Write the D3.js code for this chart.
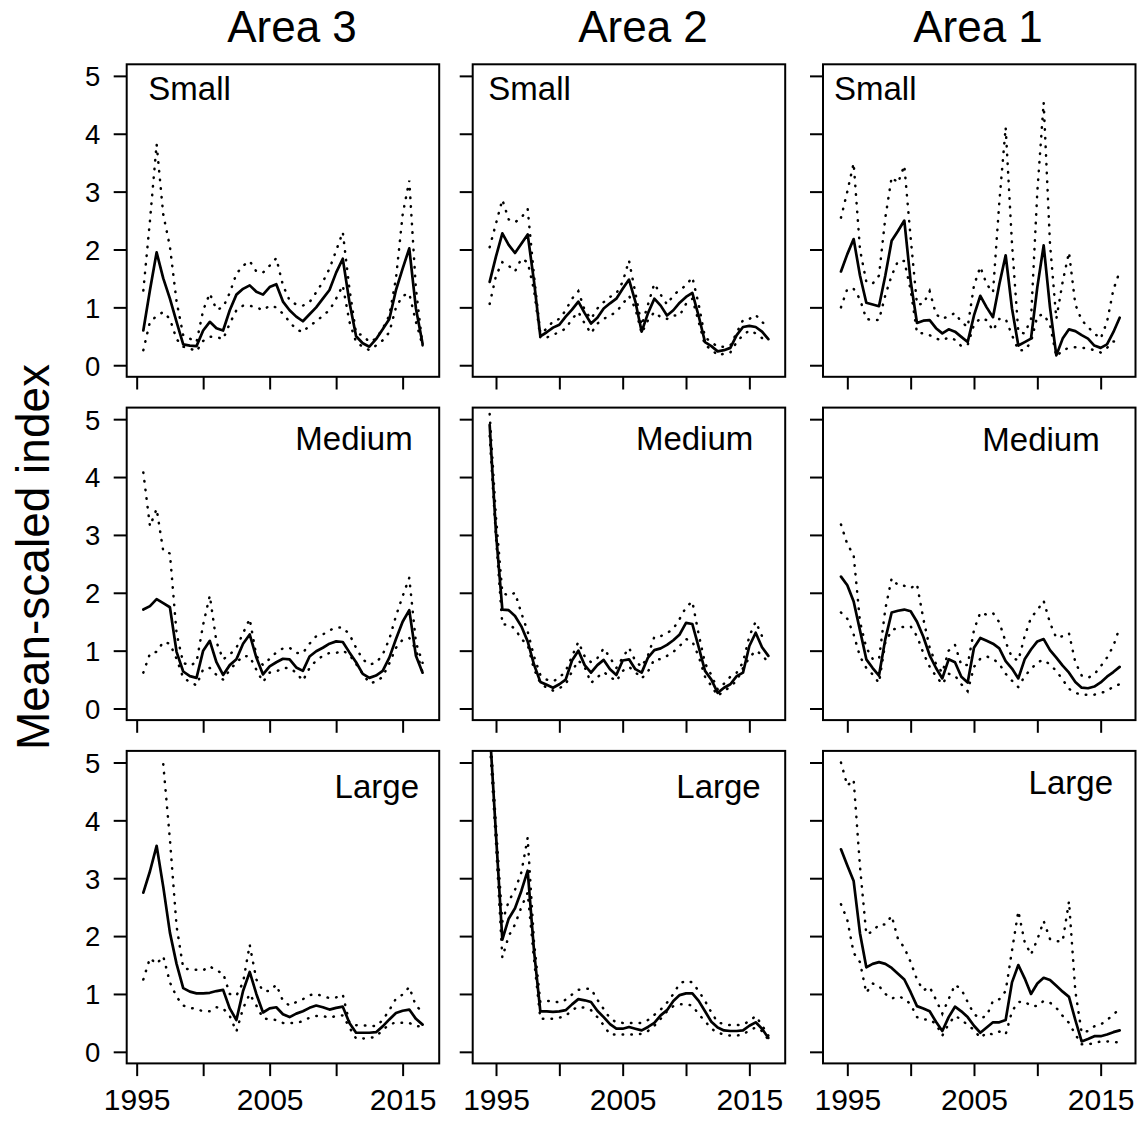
<!DOCTYPE html>
<html>
<head>
<meta charset="utf-8">
<script src="https://cdn.jsdelivr.net/npm/d3@7"></script>
<style>
  body { margin: 0; background: #fff; }
</style>
</head>
<body>
<div id="chart"></div>
<script>
// columns (left to right) and rows (top to bottom)
const areas = ['Area 3', 'Area 2', 'Area 1'];
const sizes = ['Small', 'Medium', 'Large'];

const yearsArea3 = [1995.5, 1996, 1996.5, 1997, 1997.5, 1998, 1998.5, 1999, 1999.5, 2000,
  2000.5, 2001, 2001.5, 2002, 2002.5, 2003, 2003.5, 2004, 2004.5, 2005,
  2005.5, 2006, 2006.5, 2007, 2007.5, 2008, 2008.5, 2009, 2009.5, 2010,
  2010.5, 2011, 2011.5, 2012, 2012.5, 2013, 2013.5, 2014, 2014.5, 2015,
  2015.5, 2016, 2016.5];
const yearsArea2 = [1994.5, 1995, 1995.5, 1996, 1996.5, 1997, 1997.5, 1998, 1998.5, 1999,
  1999.5, 2000, 2000.5, 2001, 2001.5, 2002, 2002.5, 2003, 2003.5, 2004,
  2004.5, 2005, 2005.5, 2006, 2006.5, 2007, 2007.5, 2008, 2008.5, 2009,
  2009.5, 2010, 2010.5, 2011, 2011.5, 2012, 2012.5, 2013, 2013.5, 2014,
  2014.5, 2015, 2015.5, 2016, 2016.5];
const yearsArea1 = yearsArea2;

// Area 3
const area3Small = [0.60, 1.30, 1.95, 1.50, 1.15, 0.75, 0.36, 0.34, 0.33, 0.60, 0.75, 0.64, 0.60, 0.95, 1.22, 1.32, 1.38, 1.27, 1.22, 1.35, 1.40, 1.10, 0.95, 0.84, 0.76, 0.88, 1.00, 1.15, 1.30, 1.60, 1.84, 1.09, 0.50, 0.38, 0.32, 0.45, 0.62, 0.80, 1.30, 1.67, 2.02, 0.98, 0.37];
const area3SmallHi = [1.29, 2.50, 3.82, 2.60, 2.05, 1.10, 0.52, 0.46, 0.40, 0.95, 1.24, 0.96, 1.00, 1.25, 1.58, 1.72, 1.80, 1.62, 1.60, 1.72, 1.85, 1.38, 1.12, 1.05, 1.03, 1.09, 1.26, 1.44, 1.67, 1.98, 2.30, 1.32, 0.55, 0.52, 0.40, 0.46, 0.63, 0.86, 1.50, 2.60, 3.19, 1.32, 0.34];
const area3SmallLo = [0.26, 0.75, 0.85, 0.92, 0.80, 0.45, 0.32, 0.29, 0.24, 0.42, 0.49, 0.49, 0.45, 0.72, 0.95, 1.03, 1.03, 1.00, 0.95, 1.03, 1.00, 0.89, 0.75, 0.62, 0.57, 0.69, 0.75, 0.86, 0.95, 1.15, 1.38, 0.75, 0.40, 0.32, 0.26, 0.34, 0.43, 0.57, 1.00, 1.20, 1.24, 0.75, 0.34];
const area3Medium = [1.71, 1.77, 1.89, 1.82, 1.75, 0.98, 0.64, 0.56, 0.53, 1.00, 1.17, 0.80, 0.58, 0.75, 0.85, 1.12, 1.28, 0.88, 0.59, 0.73, 0.80, 0.86, 0.85, 0.71, 0.65, 0.90, 0.99, 1.05, 1.12, 1.16, 1.15, 0.97, 0.80, 0.60, 0.53, 0.57, 0.65, 0.88, 1.20, 1.50, 1.70, 0.91, 0.62];
const area3MediumHi = [4.08, 3.15, 3.45, 2.72, 2.68, 1.30, 0.79, 0.74, 0.80, 1.45, 1.95, 1.15, 0.85, 0.93, 1.05, 1.30, 1.55, 0.91, 0.75, 0.86, 0.97, 1.04, 1.05, 0.96, 0.96, 1.12, 1.25, 1.28, 1.35, 1.40, 1.40, 1.28, 1.05, 0.85, 0.76, 0.79, 0.93, 1.20, 1.60, 1.94, 2.26, 1.14, 0.79];
const area3MediumLo = [0.62, 0.95, 0.98, 1.15, 1.12, 0.86, 0.53, 0.46, 0.40, 0.68, 0.70, 0.58, 0.50, 0.67, 0.79, 0.91, 0.90, 0.67, 0.46, 0.62, 0.64, 0.70, 0.70, 0.62, 0.48, 0.70, 0.83, 0.91, 0.96, 0.96, 1.00, 0.93, 0.77, 0.60, 0.44, 0.46, 0.55, 0.78, 1.05, 1.19, 1.22, 1.02, 0.62];
const area3Large = [2.75, 3.12, 3.56, 2.85, 2.06, 1.52, 1.10, 1.04, 1.01, 1.01, 1.02, 1.05, 1.07, 0.75, 0.55, 1.05, 1.38, 1.00, 0.68, 0.75, 0.77, 0.65, 0.60, 0.66, 0.70, 0.76, 0.80, 0.77, 0.73, 0.76, 0.78, 0.50, 0.33, 0.33, 0.33, 0.34, 0.44, 0.56, 0.67, 0.71, 0.73, 0.57, 0.47];
const area3LargeHi = [null, null, null, 4.97, 3.67, 2.17, 1.45, 1.42, 1.42, 1.41, 1.48, 1.40, 1.36, 1.00, 0.97, 1.20, 1.85, 1.25, 1.05, 1.05, 1.16, 0.88, 0.80, 0.86, 0.91, 0.98, 1.00, 0.96, 0.93, 0.94, 0.99, 0.50, 0.46, 0.45, 0.46, 0.44, 0.55, 0.72, 0.92, 0.99, 1.12, 0.79, 0.70];
const area3LargeLo = [1.25, 1.62, 1.52, 1.65, 1.20, 0.95, 0.80, 0.76, 0.74, 0.70, 0.70, 0.77, 0.75, 0.62, 0.35, 0.75, 1.00, 0.80, 0.58, 0.56, 0.55, 0.50, 0.50, 0.50, 0.53, 0.59, 0.62, 0.62, 0.59, 0.62, 0.63, 0.42, 0.23, 0.23, 0.24, 0.26, 0.38, 0.47, 0.51, 0.50, 0.50, 0.44, 0.44];

// Area 2
const area2Small = [1.44, 1.88, 2.28, 2.08, 1.94, 2.10, 2.26, 1.45, 0.50, 0.57, 0.65, 0.70, 0.84, 0.96, 1.10, 0.90, 0.72, 0.82, 0.98, 1.07, 1.15, 1.32, 1.48, 1.10, 0.58, 0.90, 1.15, 1.03, 0.86, 0.95, 1.08, 1.18, 1.25, 0.85, 0.40, 0.33, 0.24, 0.26, 0.30, 0.52, 0.66, 0.68, 0.66, 0.58, 0.45];
const area2SmallHi = [2.04, 2.45, 2.86, 2.52, 2.47, 2.55, 2.70, 1.55, 0.55, 0.63, 0.76, 0.80, 0.95, 1.15, 1.28, 0.95, 0.80, 0.98, 1.09, 1.18, 1.24, 1.44, 1.81, 1.25, 0.69, 1.05, 1.41, 1.22, 1.05, 1.21, 1.30, 1.38, 1.52, 1.05, 0.48, 0.40, 0.32, 0.32, 0.34, 0.56, 0.78, 0.80, 0.87, 0.75, 0.64];
const area2SmallLo = [1.06, 1.55, 1.78, 1.72, 1.62, 1.84, 1.78, 1.30, 0.47, 0.48, 0.52, 0.58, 0.63, 0.80, 0.92, 0.72, 0.55, 0.72, 0.80, 0.86, 0.92, 1.06, 1.20, 0.98, 0.55, 0.78, 0.92, 0.83, 0.80, 0.86, 0.86, 1.06, 1.15, 0.75, 0.34, 0.28, 0.17, 0.20, 0.22, 0.40, 0.52, 0.60, 0.55, 0.47, 0.43];
const area2Medium = [4.90, 3.03, 1.71, 1.70, 1.60, 1.42, 1.16, 0.76, 0.46, 0.41, 0.36, 0.42, 0.50, 0.83, 1.00, 0.75, 0.62, 0.75, 0.84, 0.68, 0.58, 0.83, 0.85, 0.68, 0.62, 0.88, 1.01, 1.04, 1.10, 1.18, 1.28, 1.48, 1.46, 1.06, 0.65, 0.50, 0.27, 0.36, 0.42, 0.56, 0.62, 1.08, 1.31, 1.06, 0.91];
const area2MediumHi = [5.09, 3.30, 2.00, 1.95, 2.00, 1.65, 1.33, 0.90, 0.58, 0.50, 0.47, 0.53, 0.65, 0.90, 1.15, 0.90, 0.80, 0.87, 1.04, 0.88, 0.70, 0.88, 1.05, 0.82, 0.72, 0.92, 1.24, 1.25, 1.30, 1.38, 1.55, 1.75, 1.85, 1.28, 0.78, 0.58, 0.33, 0.43, 0.55, 0.62, 0.80, 1.25, 1.50, 1.25, 1.20];
const area2MediumLo = [4.71, 2.95, 1.45, 1.45, 1.38, 1.20, 1.10, 0.68, 0.44, 0.36, 0.31, 0.35, 0.42, 0.64, 0.83, 0.72, 0.44, 0.54, 0.63, 0.55, 0.47, 0.65, 0.72, 0.63, 0.52, 0.64, 0.85, 0.85, 0.91, 0.98, 1.08, 1.20, 1.16, 0.90, 0.55, 0.39, 0.22, 0.30, 0.38, 0.48, 0.70, 0.88, 1.00, 0.93, 0.79];
const area2Large = [5.60, 3.75, 1.94, 2.30, 2.48, 2.78, 3.13, 1.75, 0.70, 0.70, 0.69, 0.70, 0.72, 0.82, 0.91, 0.89, 0.86, 0.71, 0.60, 0.48, 0.40, 0.40, 0.43, 0.40, 0.37, 0.43, 0.50, 0.63, 0.72, 0.88, 0.98, 1.01, 1.01, 0.88, 0.70, 0.52, 0.42, 0.37, 0.36, 0.36, 0.37, 0.45, 0.51, 0.40, 0.24];
const area2LargeHi = [5.70, 3.90, 2.25, 2.60, 2.80, 3.10, 3.70, 1.90, 0.86, 0.88, 0.88, 0.85, 0.90, 0.99, 1.07, 1.09, 1.09, 0.90, 0.74, 0.58, 0.51, 0.50, 0.50, 0.50, 0.50, 0.55, 0.64, 0.73, 0.85, 1.00, 1.18, 1.23, 1.20, 1.05, 0.88, 0.68, 0.51, 0.48, 0.46, 0.46, 0.47, 0.53, 0.62, 0.46, 0.28];
const area2LargeLo = [5.40, 3.60, 1.63, 2.00, 2.20, 2.50, 2.75, 1.60, 0.57, 0.57, 0.57, 0.59, 0.62, 0.72, 0.78, 0.76, 0.72, 0.60, 0.46, 0.30, 0.30, 0.30, 0.30, 0.30, 0.31, 0.36, 0.45, 0.57, 0.70, 0.79, 0.82, 0.82, 0.80, 0.65, 0.53, 0.40, 0.33, 0.30, 0.28, 0.28, 0.30, 0.37, 0.42, 0.36, 0.21];

// Area 1
const area1Small = [1.62, 1.92, 2.18, 1.55, 1.08, 1.05, 1.02, 1.55, 2.15, 2.32, 2.50, 1.45, 0.73, 0.77, 0.78, 0.64, 0.55, 0.62, 0.58, 0.49, 0.40, 0.86, 1.20, 1.00, 0.83, 1.40, 1.90, 0.98, 0.34, 0.40, 0.46, 1.35, 2.07, 1.00, 0.17, 0.46, 0.62, 0.59, 0.52, 0.46, 0.34, 0.30, 0.36, 0.57, 0.82];
const area1SmallHi = [2.55, 3.00, 3.49, 2.00, 1.44, 1.41, 1.55, 2.55, 3.25, 3.15, 3.45, 2.20, 1.05, 1.06, 1.28, 0.88, 0.80, 0.85, 0.90, 0.75, 0.66, 1.38, 1.70, 1.40, 1.26, 2.82, 4.11, 2.10, 0.57, 0.55, 0.80, 3.00, 4.54, 2.10, 0.80, 1.44, 1.95, 1.05, 0.78, 0.66, 0.55, 0.46, 0.75, 1.30, 1.62];
const area1SmallLo = [1.00, 1.32, 1.32, 1.14, 0.80, 0.78, 0.78, 1.21, 1.55, 1.80, 1.80, 1.30, 0.56, 0.55, 0.52, 0.46, 0.43, 0.48, 0.44, 0.33, 0.35, 0.70, 0.81, 0.78, 0.60, 0.80, 0.80, 0.52, 0.26, 0.26, 0.40, 0.85, 0.88, 0.70, 0.15, 0.26, 0.30, 0.31, 0.30, 0.29, 0.26, 0.22, 0.30, 0.41, 0.41];
const area1Medium = [2.28, 2.13, 1.85, 1.35, 0.85, 0.70, 0.57, 1.20, 1.66, 1.69, 1.71, 1.68, 1.50, 1.24, 0.92, 0.70, 0.52, 0.85, 0.80, 0.55, 0.45, 1.05, 1.22, 1.17, 1.12, 1.04, 0.82, 0.69, 0.52, 0.85, 1.02, 1.16, 1.20, 1.01, 0.88, 0.74, 0.62, 0.46, 0.36, 0.35, 0.38, 0.45, 0.55, 0.63, 0.72];
const area1MediumHi = [3.18, 2.84, 2.65, 1.50, 1.05, 0.86, 0.85, 1.72, 2.25, 2.13, 2.12, 2.08, 2.15, 1.55, 1.05, 0.77, 0.62, 1.00, 1.10, 0.75, 0.75, 1.36, 1.66, 1.62, 1.65, 1.49, 1.15, 0.88, 0.83, 1.25, 1.57, 1.70, 1.86, 1.48, 1.22, 1.25, 1.30, 0.80, 0.57, 0.53, 0.59, 0.73, 0.88, 1.08, 1.40];
const area1MediumLo = [1.66, 1.55, 1.28, 0.90, 0.70, 0.59, 0.44, 1.14, 1.35, 1.40, 1.41, 1.42, 1.25, 0.96, 0.72, 0.56, 0.42, 0.60, 0.57, 0.42, 0.30, 0.72, 0.86, 0.90, 0.86, 0.77, 0.60, 0.48, 0.37, 0.56, 0.68, 0.80, 0.84, 0.76, 0.65, 0.50, 0.34, 0.27, 0.24, 0.24, 0.24, 0.27, 0.30, 0.38, 0.42];
const area1Large = [3.50, 3.22, 2.95, 2.05, 1.46, 1.52, 1.55, 1.52, 1.45, 1.35, 1.25, 1.03, 0.79, 0.75, 0.70, 0.52, 0.36, 0.60, 0.78, 0.70, 0.60, 0.45, 0.33, 0.42, 0.51, 0.51, 0.55, 1.20, 1.50, 1.27, 1.00, 1.18, 1.28, 1.24, 1.14, 1.04, 0.95, 0.55, 0.18, 0.22, 0.27, 0.27, 0.30, 0.34, 0.37];
const area1LargeHi = [5.00, 4.60, 4.70, 3.20, 2.03, 2.08, 2.20, 2.20, 2.35, 1.95, 1.80, 1.55, 1.25, 1.06, 1.12, 0.90, 0.66, 0.91, 1.16, 1.08, 0.86, 0.65, 0.58, 0.62, 0.88, 0.91, 1.05, 1.75, 2.43, 1.90, 1.68, 1.94, 2.26, 1.95, 1.91, 1.91, 2.60, 1.05, 0.33, 0.36, 0.44, 0.47, 0.55, 0.64, 0.75];
const area1LargeLo = [2.55, 2.28, 1.71, 1.55, 1.02, 1.18, 1.14, 1.00, 0.92, 0.96, 0.92, 0.82, 0.60, 0.56, 0.56, 0.48, 0.28, 0.48, 0.62, 0.56, 0.46, 0.38, 0.24, 0.33, 0.30, 0.35, 0.30, 0.70, 0.86, 0.87, 0.79, 0.79, 0.88, 0.85, 0.76, 0.62, 0.50, 0.30, 0.13, 0.13, 0.15, 0.18, 0.18, 0.17, 0.16];

const yTicks = [0, 1, 2, 3, 4, 5];
const xTicks = [1995, 2000, 2005, 2010, 2015];
const xTickLabels = [1995, 2005, 2015];

// table the panels are drawn from: [row][col]
const years = [yearsArea3, yearsArea2, yearsArea1];
const series = [
  [[area3Small, area3SmallLo, area3SmallHi], [area2Small, area2SmallLo, area2SmallHi], [area1Small, area1SmallLo, area1SmallHi]],
  [[area3Medium, area3MediumLo, area3MediumHi], [area2Medium, area2MediumLo, area2MediumHi], [area1Medium, area1MediumLo, area1MediumHi]],
  [[area3Large, area3LargeLo, area3LargeHi], [area2Large, area2LargeLo, area2LargeHi], [area1Large, area1LargeLo, area1LargeHi]]
];

// layout
const width = 1138, height = 1123;
const colLeft = [126.7, 472.7, 823];
const rowTop = [64.3, 407.6, 750.9];
const boxW = 312.5, boxH = 312.5;
const xDomains = [[1994.25, 2017.75], [1993.16, 2017.83], [1993.08, 2017.75]];
const titleX = [292, 643, 978];
// where the size label sits in each panel: [x, baseline, anchor]
const labelPos = [
  [[21.6, 36, 'start'], [15.6, 36, 'start'], [11, 36, 'start']],
  [[286, 42.4, 'end'], [280.6, 42.4, 'end'], [276.7, 43.5, 'end']],
  [[292.3, 47.2, 'end'], [288, 47.2, 'end'], [290, 43.2, 'end']]
];

const font = '"Liberation Sans", Arial, Helvetica, sans-serif';

const svg = d3.select('#chart').append('svg')
    .attr('width', width)
    .attr('height', height)
    .style('font-family', font)
    .style('background', '#fff');

const y = d3.scaleLinear().domain([-0.2, 5.2]).range([boxH, 0]);

areas.forEach((a, c) => {
  svg.append('text')
      .attr('x', titleX[c])
      .attr('y', 41.7)
      .attr('text-anchor', 'middle')
      .style('font-size', '44px')
      .text(a);
});

svg.append('text')
    .attr('transform', 'translate(49,557) rotate(-90)')
    .attr('text-anchor', 'middle')
    .style('font-size', '46px')
    .text('Mean-scaled index');

sizes.forEach((s, r) => {
  areas.forEach((a, c) => {
    const x = d3.scaleLinear().domain(xDomains[c]).range([0, boxW]);
    const g = svg.append('g')
        .attr('transform', `translate(${colLeft[c]},${rowTop[r]})`);

    const clipId = `clip-${r}-${c}`;
    g.append('clipPath').attr('id', clipId)
      .append('rect').attr('width', boxW).attr('height', boxH);

    // axes
    const yAxis = d3.axisLeft(y)
        .tickValues(yTicks)
        .tickSize(13)
        .tickPadding(13.5)
        .tickFormat(d => c === 0 ? d : '');
    g.append('g')
        .call(yAxis)
        .call(gg => gg.select('.domain').remove())
        .call(gg => gg.selectAll('line').attr('stroke', '#000').attr('stroke-width', 2))
        .call(gg => gg.selectAll('text')
            .attr('fill', '#000')
            .attr('dy', '0.36em')
            .style('font-size', '27.5px')
            .style('font-family', font));

    const xAxis = d3.axisBottom(x)
        .tickValues(xTicks)
        .tickSize(12.7)
        .tickFormat(d => (r === 2 && xTickLabels.includes(d)) ? d : '');
    g.append('g')
        .attr('transform', `translate(0,${boxH})`)
        .call(xAxis)
        .call(gg => gg.select('.domain').remove())
        .call(gg => gg.selectAll('line').attr('stroke', '#000').attr('stroke-width', 2))
        .call(gg => gg.selectAll('text')
            .attr('fill', '#000')
            .attr('y', 46.8)
            .attr('dy', null)
            .style('font-size', '30px')
            .style('font-family', font));

    // lines
    const yrs = years[c];
    const [mid, lo, hi] = series[r][c];
    const line = d3.line()
        .defined(d => d[1] != null)
        .x(d => x(d[0]))
        .y(d => y(d[1]));

    const lg = g.append('g')
        .attr('clip-path', `url(#${clipId})`)
        .attr('fill', 'none')
        .attr('stroke', '#000');

    [lo, hi].forEach(v => {
      lg.append('path')
          .datum(yrs.map((t, i) => [t, v[i]]))
          .attr('d', line)
          .attr('stroke-width', 2.5)
          .attr('stroke-linecap', 'round')
          .attr('stroke-dasharray', '0.5 8.2');
    });

    lg.append('path')
        .datum(yrs.map((t, i) => [t, mid[i]]))
        .attr('d', line)
        .attr('stroke-width', 2.7)
        .attr('stroke-linejoin', 'round')
        .attr('stroke-linecap', 'round');

    // frame
    g.append('rect')
        .attr('width', boxW)
        .attr('height', boxH)
        .attr('fill', 'none')
        .attr('stroke', '#000')
        .attr('stroke-width', 2);

    const lp = labelPos[r][c];
    g.append('text')
        .attr('x', lp[0])
        .attr('y', lp[1])
        .attr('text-anchor', lp[2])
        .style('font-size', '33px')
        .text(s);
  });
});
</script>
</body>
</html>
